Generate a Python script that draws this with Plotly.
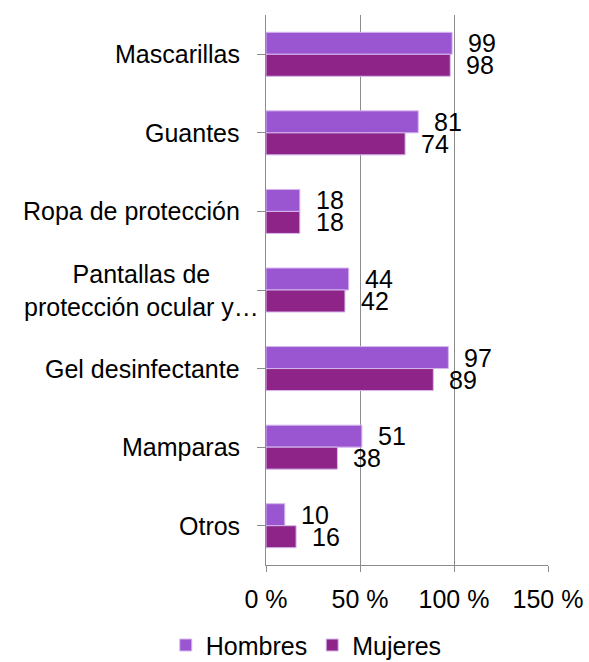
import plotly.graph_objects as go

categories = ["Mascarillas", "Guantes", "Ropa de protección",
              "Pantallas de<br>protección ocular y…", "Gel desinfectante",
              "Mamparas", "Otros"]
hombres = [99, 81, 18, 44, 97, 51, 10]
mujeres = [98, 74, 18, 42, 89, 38, 16]
x_ticks = [0, 50, 100, 150]
x_tick_labels = ["0 %", "50 %", "100 %", "150 %"]

C_HOMBRES = "#9A56D1"
C_MUJERES = "#8E2488"
FONT = "Liberation Sans, Arial, sans-serif"
FS = 25

idx = list(range(len(categories)))

fig = go.Figure()
fig.add_trace(go.Bar(
    name="Hombres", y=idx, x=hombres, orientation="h",
    marker=dict(color=C_HOMBRES, line=dict(color="#D6B8EE", width=1)),
))
fig.add_trace(go.Bar(
    name="Mujeres", y=idx, x=mujeres, orientation="h",
    marker=dict(color=C_MUJERES, line=dict(color="#D6B8EE", width=1)),
))

ann = []
off = 0.14
for i, (h, m) in enumerate(zip(hombres, mujeres)):
    ann.append(dict(x=h, y=i - off, xref="x", yref="y", text=str(h),
                    xanchor="left", yanchor="middle", xshift=14,
                    showarrow=False, font=dict(size=FS, color="#000", family=FONT)))
    ann.append(dict(x=m, y=i + off, xref="x", yref="y", text=str(m),
                    xanchor="left", yanchor="middle", xshift=14,
                    showarrow=False, font=dict(size=FS, color="#000", family=FONT)))

# category names, drawn beside the axis
for i, name in enumerate(categories):
    if "<br>" in name:
        ann.append(dict(x=-0.44, y=i, xref="paper", yref="y", text=name,
                        xanchor="center", yanchor="middle", align="center",
                        showarrow=False,
                        font=dict(size=FS, color="#000", family=FONT)))
    else:
        ann.append(dict(x=-0.085, y=i, xref="paper", yref="y", text=name,
                        xanchor="right", yanchor="middle", align="right",
                        showarrow=False,
                        font=dict(size=FS, color="#000", family=FONT)))

fig.update_layout(
    width=589, height=662,
    margin=dict(l=266, r=41, t=15, b=97, autoexpand=False),
    paper_bgcolor="white", plot_bgcolor="white",
    barmode="group", bargap=0.44, bargroupgap=0,
    font=dict(family=FONT, size=FS, color="#000"),
    annotations=ann,
    showlegend=True,
    legend=dict(orientation="h", xref="container", yref="container",
                x=0.52, xanchor="center", y=0.060, yanchor="top",
                font=dict(size=FS, family=FONT),
                itemwidth=30, tracegroupgap=0),
    xaxis=dict(range=[0, 150], tickvals=x_ticks, ticktext=x_tick_labels,
               showgrid=True, gridcolor="#8C8C8C", gridwidth=1,
               showline=True, linecolor="#8C8C8C", linewidth=1,
               ticks="outside", ticklen=6, tickcolor="#8C8C8C",
               ticklabelstandoff=6, automargin=False,
               zeroline=False, fixedrange=True,
               tickfont=dict(size=FS, family=FONT, color="#000")),
    yaxis=dict(range=[len(categories) - 0.5, -0.5], tickmode="array",
               tickvals=idx, showticklabels=False,
               tickson="boundaries", ticks="outside", ticklen=8,
               tickcolor="#8C8C8C", showgrid=False, automargin=False,
               showline=True, linecolor="#8C8C8C", linewidth=1,
               zeroline=False, fixedrange=True),
)

fig.write_html("out.html")
